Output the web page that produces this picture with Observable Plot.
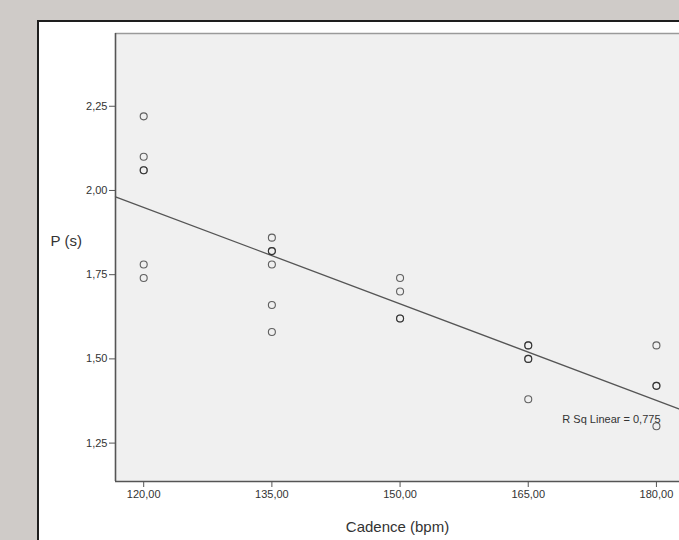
<!DOCTYPE html>
<html>
<head>
<meta charset="utf-8">
<script src="https://cdn.jsdelivr.net/npm/d3@7"></script>
<script src="https://cdn.jsdelivr.net/npm/@observablehq/plot@0.6"></script>
<style>
html, body { margin: 0; padding: 0; background: #cfcbc8; width: 679px; height: 540px; overflow: hidden; }
#panel { position: absolute; left: 37px; top: 20px; width: 720px; height: 600px; background: #ffffff;
  border-left: 2px solid #1e1e1e; border-top: 2px solid #1e1e1e; }
#chart { position: absolute; left: 0; top: 0; }
</style>
</head>
<body>
<div id="panel"></div>
<div id="chart"></div>
<script>
// Data
const cadence = [120, 120, 120, 120, 120, 120,
                 135, 135, 135, 135, 135, 135,
                 150, 150, 150, 150,
                 165, 165, 165, 165, 165,
                 180, 180, 180, 180];
const period  = [2.22, 2.10, 2.06, 2.06, 1.78, 1.74,
                 1.86, 1.82, 1.82, 1.78, 1.66, 1.58,
                 1.74, 1.70, 1.62, 1.62,
                 1.54, 1.54, 1.50, 1.50, 1.38,
                 1.54, 1.42, 1.42, 1.30];
const xTicks = [120, 135, 150, 165, 180];
const yTicks = [1.25, 1.50, 1.75, 2.00, 2.25];
const xLabel = "Cadence (bpm)";
const yLabel = "P (s)";
const fitLabel = "R Sq Linear = 0,775";

const xDomain = [116.7, 182.7];
const yDomain = [1.136, 2.466];

const points = cadence.map((c, i) => ({cadence: c, period: period[i]}));

// least-squares fit across the full plot width
const mx = d3.mean(cadence), my = d3.mean(period);
const sxy = d3.sum(cadence, (c, i) => (c - mx) * (period[i] - my));
const sxx = d3.sum(cadence, c => (c - mx) ** 2);
const slope = sxy / sxx, intercept = my - slope * mx;
const fit = xDomain.map(x => ({x, y: intercept + slope * x}));

const fmt = d => d.toFixed(2).replace(".", ",");
const font = "'Liberation Sans', Arial, sans-serif";

const chart = Plot.plot({
  width: 679,
  height: 540,
  marginLeft: 115,
  marginRight: 0,
  marginTop: 33,
  marginBottom: 59,
  style: {background: "transparent", fontFamily: font, overflow: "visible"},
  x: {domain: xDomain},
  y: {domain: yDomain},
  marks: [
    Plot.frame({fill: "#f0f0f0", stroke: "none"}),
    Plot.ruleY([yDomain[1]], {stroke: "#9a9a9a", strokeWidth: 1.6}),
    Plot.line(fit, {x: "x", y: "y", stroke: "#555", strokeWidth: 1.3}),
    Plot.dot(points, {x: "cadence", y: "period", r: 3.5, fill: "none", stroke: "#222", strokeOpacity: 0.7, strokeWidth: 1.1}),
    Plot.ruleX([xDomain[0]], {stroke: "#555", strokeWidth: 1.6}),
    Plot.ruleY([yDomain[0]], {stroke: "#555", strokeWidth: 1.6}),
    Plot.axisX({ticks: xTicks, tickFormat: fmt, tickSize: 6, tickPadding: 3, fontSize: 11, label: null, stroke: "#555", fill: "#333"}),
    Plot.axisY({ticks: yTicks, tickFormat: fmt, tickSize: 6, tickPadding: 2, fontSize: 11, label: null, stroke: "#555", fill: "#333"}),
    Plot.text([xLabel], {frameAnchor: "bottom", dy: 46, lineAnchor: "middle", textAnchor: "middle", fontSize: 15, fill: "#333"}),
    Plot.text([yLabel], {frameAnchor: "left", dx: -65, dy: -16, lineAnchor: "middle", textAnchor: "start", fontSize: 15, fill: "#333"}),
    Plot.text([fitLabel], {frameAnchor: "bottom-right", dx: -19, dy: -62, lineAnchor: "middle", textAnchor: "end", fontSize: 11, fill: "#333"})
  ]
});
document.getElementById("chart").appendChild(chart);
</script>
</body>
</html>
